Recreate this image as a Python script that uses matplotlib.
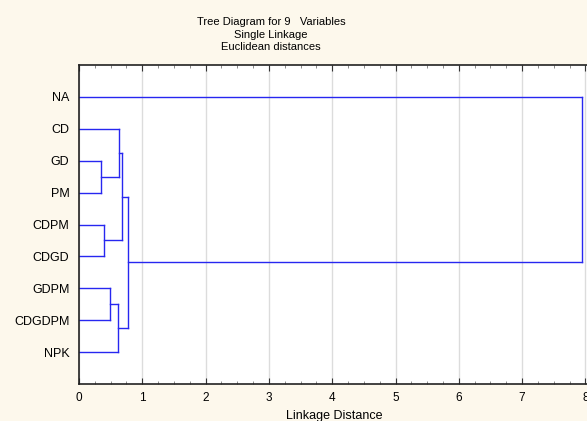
import numpy as np
import matplotlib.pyplot as plt
from matplotlib.ticker import MultipleLocator

plt.rcParams['font.family'] = ['Liberation Sans', 'DejaVu Sans']

# leaves, top to bottom
leaves = ['NA', 'CD', 'GD', 'PM', 'CDPM', 'CDGD', 'GDPM', 'CDGDPM', 'NPK']

# merges (linkage style): cluster ids 0..8 are leaves, new ids start at 9
merge_a = [2, 4, 6, 11, 1, 13, 14, 0]
merge_b = [3, 5, 7, 8, 9, 10, 12, 15]
merge_h = [0.34, 0.40, 0.49, 0.62, 0.63, 0.68, 0.77, 7.94]

x_ticks = [0, 1, 2, 3, 4, 5, 6, 7, 8]

W, H = 587, 421
fig = plt.figure(figsize=(W / 100, H / 100), dpi=100)
fig.patch.set_facecolor('#FDF8EC')

left, right_px, top, bottom = 79, 79 + 8.5 * 63.3, 65, 384
ax = fig.add_axes([left / W, 1 - bottom / H, (right_px - left) / W, (bottom - top) / H])
ax.set_facecolor('white')

line_col = '#2727F0'
ypos = {i: i + 1 for i in range(len(leaves))}
height = {i: 0.0 for i in range(len(leaves))}
for k, (a, b, h) in enumerate(zip(merge_a, merge_b, merge_h)):
    cid = len(leaves) + k
    ya, yb = ypos[a], ypos[b]
    ax.plot([height[a], h], [ya, ya], color=line_col, lw=1)
    ax.plot([height[b], h], [yb, yb], color=line_col, lw=1)
    ax.plot([h, h], [ya, yb], color=line_col, lw=1)
    ypos[cid] = (ya + yb) / 2
    height[cid] = h

ax.set_xlim(0, 8.5)
ax.set_ylim(len(leaves) + 1, 0)
ax.set_yticks(range(1, len(leaves) + 1))
ax.set_yticklabels(leaves, fontsize=9)
ax.tick_params(axis='y', length=0, pad=7)

ax.set_xticks(x_ticks)
ax.set_xticklabels([str(t) for t in x_ticks], fontsize=8.5)
ax.xaxis.set_minor_locator(MultipleLocator(0.25))
ax.tick_params(axis='x', which='major', direction='in', top=True, length=4, color='#333333', pad=6)
ax.tick_params(axis='x', which='minor', direction='in', top=True, length=2, color='#777777')
ax.grid(axis='x', which='major', color='#DCDCDC', lw=1)
ax.set_axisbelow(True)

for s in ['left', 'top', 'bottom']:
    ax.spines[s].set_color('#222222')
    ax.spines[s].set_linewidth(1.2)
ax.spines['right'].set_visible(False)

fig.text(271 / W, 1 - 22 / H, 'Tree Diagram for 9   Variables', ha='center', va='center', fontsize=8)
fig.text(271 / W, 1 - 34.5 / H, 'Single Linkage', ha='center', va='center', fontsize=8)
fig.text(271 / W, 1 - 47 / H, 'Euclidean distances', ha='center', va='center', fontsize=8)
fig.text(334 / W, 1 - 416 / H, 'Linkage Distance', ha='center', va='center', fontsize=9)

fig.savefig('out.png', dpi=100, facecolor=fig.get_facecolor())
